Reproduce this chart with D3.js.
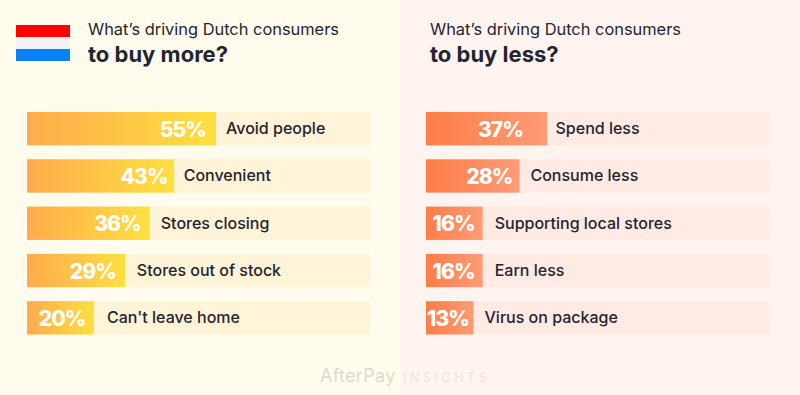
<!DOCTYPE html>
<html>
<head>
<meta charset="utf-8">
<title>What's driving Dutch consumers</title>
<script src="https://cdnjs.cloudflare.com/ajax/libs/d3/7.8.5/d3.min.js"></script>
<style>
  html, body { margin: 0; padding: 0; background: #fffcee; }
  svg { display: block; font-family: Inter, "Noto Sans", sans-serif; }
</style>
</head>
<body>
<svg id="chart" width="800" height="395"></svg>
<script>
/* Dutch consumers: reasons for buying more / buying less */
var moreLabels = ['Avoid people', 'Convenient', 'Stores closing', 'Stores out of stock', "Can't leave home"];
var moreValues = [55, 43, 36, 29, 20];
var lessLabels = ['Spend less', 'Consume less', 'Supporting local stores', 'Earn less', 'Virus on package'];
var lessValues = [37, 28, 16, 16, 13];
var flagColors = ['#ff0000', '#f2f2f2', '#0a80f5'];

var svg = d3.select('#chart');
var INK = '#23252f';

/* one band scale shared by both panels, one value scale per panel */
var yBand = d3.scaleBand().domain(d3.range(5)).range([112, 334.5]).paddingInner(0.295);
var xMore = d3.scaleLinear().domain([20, 55]).range([94, 216]);
var xLess = d3.scaleLinear().domain([13, 37]).range([473.5, 547]);

var defs = svg.append('defs');
function addGradient(id, c0, c1) {
  var g = defs.append('linearGradient').attr('id', id);
  g.append('stop').attr('offset', '0%').attr('stop-color', c0);
  g.append('stop').attr('offset', '100%').attr('stop-color', c1);
}

/* Panel backgrounds */
svg.append('rect').attr('width', 400).attr('height', 395).attr('fill', '#fffcee');
svg.append('rect').attr('x', 400).attr('width', 400).attr('height', 395).attr('fill', '#fff4f0');

/* Flag */
var yFlag = d3.scaleBand().domain(d3.range(3)).range([25, 61]);
svg.selectAll('rect.flag').data(flagColors).enter().append('rect')
  .attr('class', 'flag')
  .attr('x', 16).attr('width', 54)
  .attr('y', function (d, i) { return yFlag(i); })
  .attr('height', yFlag.bandwidth())
  .attr('fill', function (d) { return d; });

function drawPanel(opts) {
  var g = svg.append('g');

  g.append('text')
    .attr('x', opts.titleX).attr('y', 35)
    .style('fill', INK).style('font-size', '16.4px').style('font-weight', 400)
    .text("What\u2019s driving Dutch consumers");
  g.append('text')
    .attr('x', opts.titleX).attr('y', 62)
    .style('fill', INK).style('font-size', '22px').style('font-weight', 700)
    .text(opts.subtitle);

  opts.values.forEach(function (v, i) {
    var y = yBand(i), h = yBand.bandwidth();
    var id = opts.id + '-grad-' + i;
    addGradient(id, opts.c0, opts.c1);
    var xEnd = opts.x(v);

    /* track, then the value bar */
    g.append('rect').attr('x', opts.left).attr('y', y)
      .attr('width', opts.right - opts.left).attr('height', h).attr('fill', opts.track);
    g.append('rect').attr('x', opts.left).attr('y', y)
      .attr('width', xEnd - opts.left).attr('height', h).attr('fill', 'url(#' + id + ')');

    g.append('text')
      .attr('x', xEnd - opts.inset[i]).attr('y', y + h / 2 + 8)
      .attr('text-anchor', 'end')
      .style('fill', '#fff').style('font-size', '21px').style('font-weight', 800)
      .style('letter-spacing', '-0.9px')
      .text(v + '%');
    g.append('text')
      .attr('x', xEnd + opts.gap[i]).attr('y', y + h / 2 + 5.5)
      .style('fill', INK).style('font-size', '16px').style('font-weight', 450)
      .text(opts.labels[i]);
  });
}

drawPanel({
  id: 'more', titleX: 88, subtitle: 'to buy more?', left: 27, right: 370, x: xMore,
  values: moreValues, labels: moreLabels,
  inset: [10, 6.5, 9, 9.5, 8.5], gap: [10, 9.5, 11, 11.5, 13],
  c0: '#ffab4d', c1: '#ffe040', track: '#fff3d8'
});
drawPanel({
  id: 'less', titleX: 430, subtitle: 'to buy less?', left: 426, right: 769, x: xLess,
  values: lessValues, labels: lessLabels,
  inset: [24, 7, 8, 8, 4.5], gap: [8.5, 11, 12, 12, 11],
  c0: '#ff7d48', c1: '#ff9b76', track: '#ffebe4'
});

/* Watermark */
svg.append('text')
  .attr('x', 320).attr('y', 382)
  .style('fill', '#dddbcf').style('font-size', '18px').style('font-weight', 400)
  .style('letter-spacing', '0.3px')
  .text('AfterPay');
svg.append('text')
  .attr('x', 403).attr('y', 382)
  .style('fill', '#e8dfdb').style('font-size', '12.5px').style('font-weight', 300)
  .style('letter-spacing', '3.6px')
  .text('INSIGHTS');
</script>
</body>
</html>
